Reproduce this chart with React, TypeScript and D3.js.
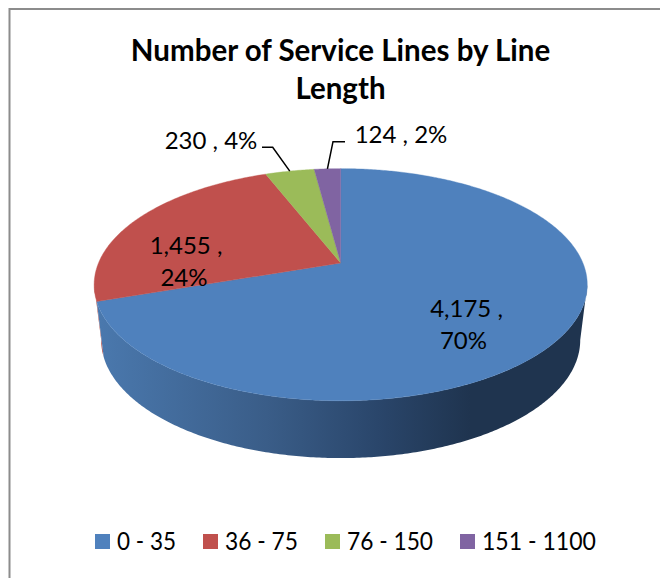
import React from "react";
import * as d3 from "d3";

// Service line counts per length bucket
const categories = ["0 - 35", "36 - 75", "76 - 150", "151 - 1100"];
const counts = [4175, 1455, 230, 124];
const colors = ["#4f81bd", "#c0504d", "#9bbb59", "#8064a2"];
const titleLines = ["Number of Service Lines by Line", "Length"];

const FONT = "Lato, Carlito, 'Open Sans', sans-serif";

// Perspective projection of the disc: the far edge shrinks, the near edge grows.
const K = 0.187;
const CX = 340.7;
type Plane = { y0: number; a: number; b: number };
const topPlane: Plane = { y0: 263, a: 112, b: 242.2 };
const basePlane: Plane = { y0: 318, a: 113.9, b: 235.3 };

function project(p: Plane, theta: number, r = 1): [number, number] {
  const x = r * Math.sin(theta);
  const y = r * Math.cos(theta);
  const w = 1 + K * y;
  return [CX + (p.b * x) / w, p.y0 - (p.a * y) / w];
}

function arcPoints(p: Plane, a0: number, a1: number): [number, number][] {
  const n = Math.max(2, Math.ceil(Math.abs(a1 - a0) / 0.01));
  return d3.range(n + 1).map((i) => project(p, a0 + ((a1 - a0) * i) / n));
}

const line = d3.line<[number, number]>();

const arcs = d3.pie<number>().sort(null)(counts);
const total = d3.sum(counts);

// Angles where the projected rim reaches its right and left extremes
const rimRight = Math.acos(-K);
const rimLeft = 2 * Math.PI - rimRight;

// Label placement in screen space, paired with each slice by index
const valueLabelLayout = [
  [{ x: 466.5, y: 317 }, { x: 463.5, y: 349 }],
  [{ x: 186, y: 254 }, { x: 184, y: 286 }],
  [{ x: 211, y: 149 }],
  [{ x: 401, y: 143 }],
];
const leaderElbows: ([number, number][] | null)[] = [
  null,
  null,
  [[262, 147.3], [272.7, 147.3]],
  [[345, 141.7], [333, 141.7]],
];
const legendX = [95, 203, 325, 460];
const legendTextWidth = [59, 73, 86, 114];

// Wall between two rim angles: top arc forward, base arc back
function wallPath(a0: number, a1: number) {
  const pts = [...arcPoints(topPlane, a0, a1), ...arcPoints(basePlane, a1, a0)];
  return line(pts) + "Z";
}

export default function App() {
  const fmt = d3.format(",");
  return (
    <svg
      width={660}
      height={578}
      style={{ position: "absolute", left: 0, top: 0, display: "block", background: "#fff" }}
    >
      <defs>
        <linearGradient id="sideShade" gradientUnits="userSpaceOnUse" x1={100} x2={470} y1={0} y2={0}>
          <stop offset="0" stopColor="#4a78ad" />
          <stop offset="0.45" stopColor="#3a5d88" />
          <stop offset="0.75" stopColor="#2a466b" />
          <stop offset="1" stopColor="#1f344f" />
        </linearGradient>
      </defs>

      {/* chart frame, open past the right and bottom edges */}
      <path d="M9.5,578 V9 H660" fill="none" stroke="#8c8c8c" strokeWidth={2} />

      {titleLines.map((t, i) => (
        <text
          key={t}
          x={340.5}
          y={61 + i * 38}
          textAnchor="middle"
          fontFamily={FONT}
          fontWeight={700}
          fontSize={29.5}
          fill="#000"
        >
          {t}
        </text>
      ))}

      {/* rim: red sliver at the far left, then the blue wall across the front */}
      <path d={wallPath(arcs[1].startAngle, rimLeft)} fill="#a8413f" />
      <path d={wallPath(rimRight, arcs[0].endAngle)} fill="url(#sideShade)" />

      {/* top faces */}
      {arcs.map((a, i) => {
        const pts: [number, number][] = [
          project(topPlane, 0, 0),
          ...arcPoints(topPlane, a.startAngle, a.endAngle),
        ];
        return <path key={i} d={line(pts) + "Z"} fill={colors[i]} stroke={colors[i]} strokeWidth={0.4} />;
      })}

      {/* leader lines for the two thin slices */}
      {arcs.map((a, i) => {
        const elbow = leaderElbows[i];
        if (!elbow) return null;
        const anchor = project(topPlane, (a.startAngle + a.endAngle) / 2);
        return <path key={i} d={line([...elbow, anchor]) ?? ""} fill="none" stroke="#000" strokeWidth={1.5} />;
      })}

      {/* value labels */}
      {arcs.map((a, i) => {
        const pct = `${Math.round((counts[i] / total) * 100)}%`;
        const value = fmt(counts[i]);
        const layout = valueLabelLayout[i];
        const strings = layout.length > 1 ? [`${value} ,`, pct] : [`${value} , ${pct}`];
        return strings.map((s, j) => (
          <text
            key={`${i}-${j}`}
            x={layout[j].x}
            y={layout[j].y}
            textAnchor="middle"
            fontFamily={FONT}
            fontSize={24}
            fill="#000"
          >
            {s}
          </text>
        ));
      })}

      {/* legend */}
      {categories.map((c, i) => (
        <g key={c}>
          <rect x={legendX[i]} y={534} width={15} height={15} fill={colors[i]} />
          <text
            x={legendX[i] + 22}
            y={549.5}
            fontFamily={FONT}
            fontSize={24.5}
            fill="#000"
            textLength={legendTextWidth[i]}
            lengthAdjust="spacingAndGlyphs"
          >
            {c}
          </text>
        </g>
      ))}
    </svg>
  );
}
